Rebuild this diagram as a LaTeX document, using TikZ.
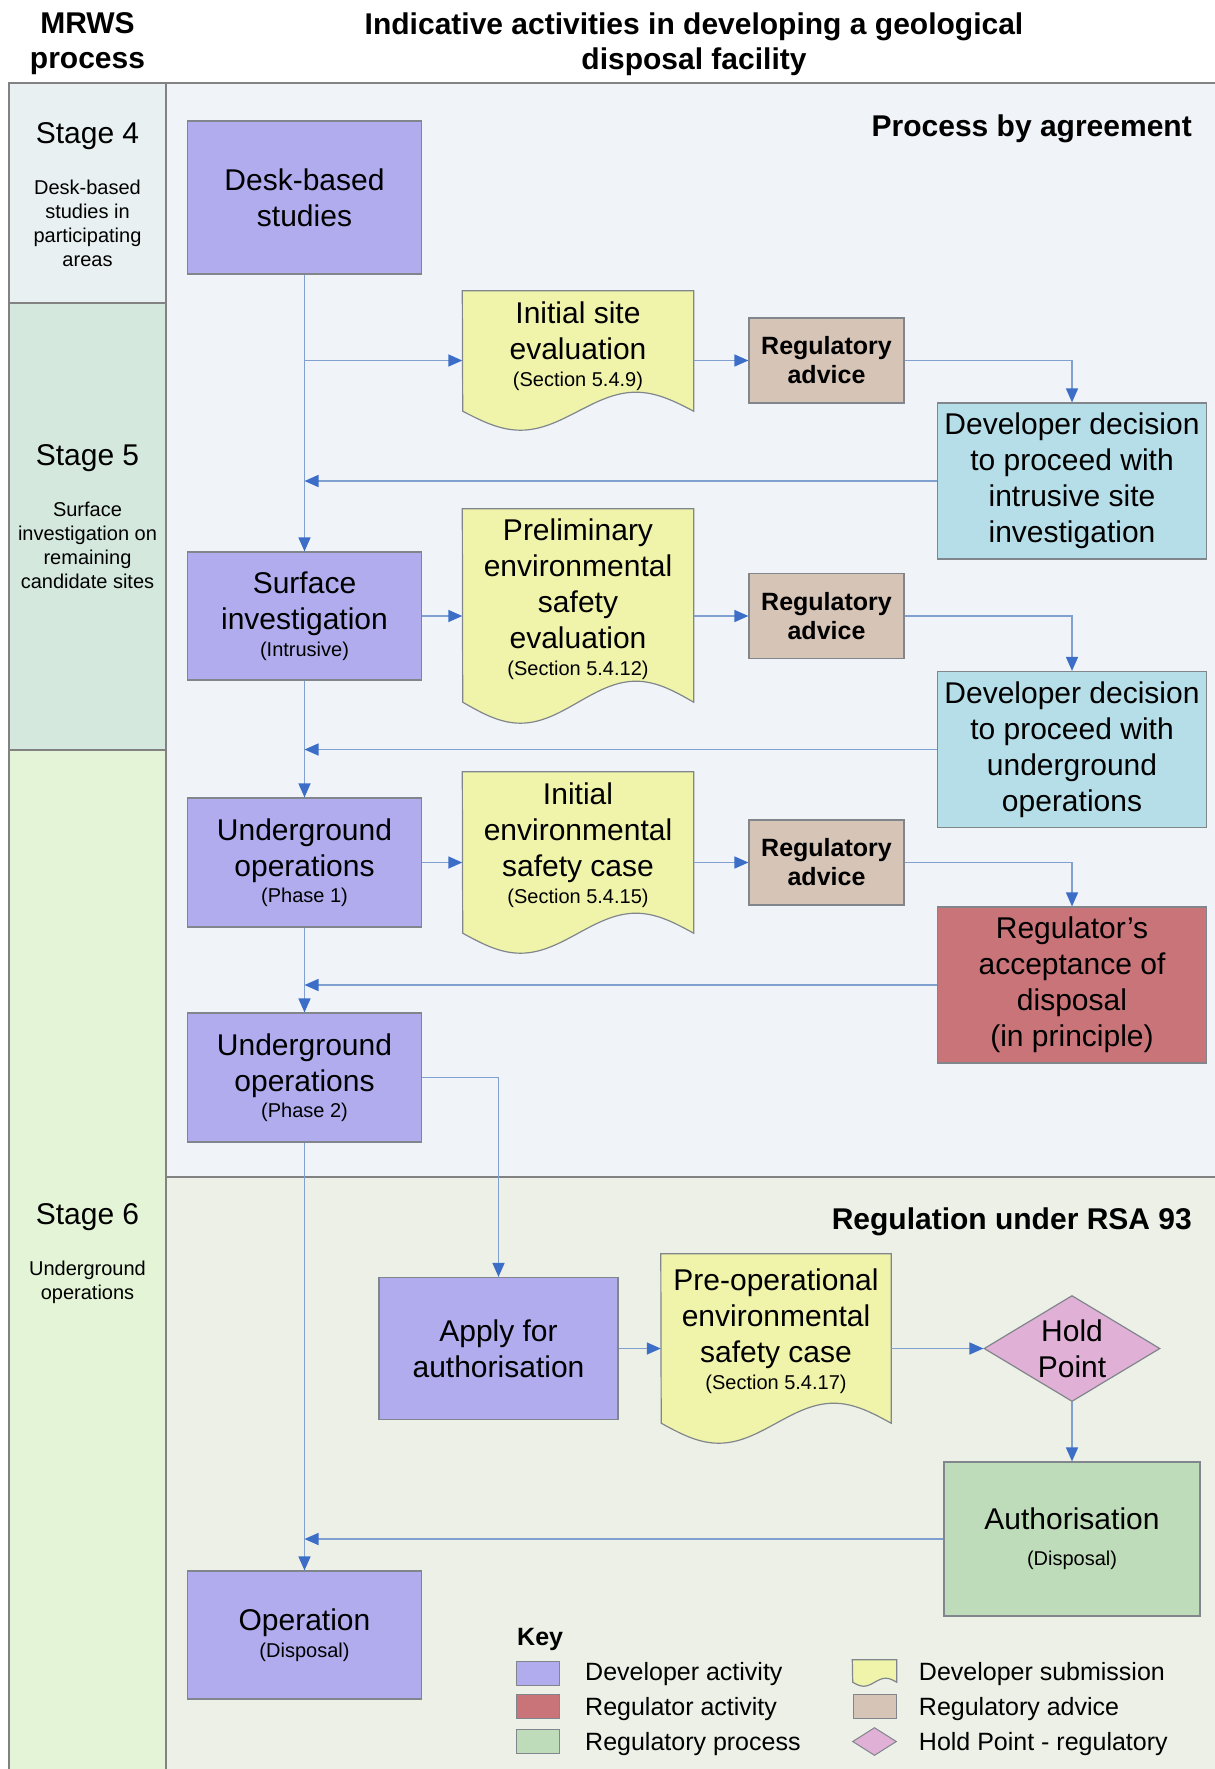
\documentclass[tikz,border=0pt]{standalone}
\usepackage{fontspec}
\setmainfont{Liberation Sans}
\usetikzlibrary{arrows.meta,shapes.geometric}

\definecolor{devfill}{RGB}{176,172,238}
\definecolor{subfill}{RGB}{240,244,170}
\definecolor{advfill}{RGB}{214,196,182}
\definecolor{decfill}{RGB}{182,222,232}
\definecolor{regfill}{RGB}{200,116,120}
\definecolor{procfill}{RGB}{190,220,186}
\definecolor{holdfill}{RGB}{224,176,214}
\definecolor{boxline}{RGB}{128,134,140}
\definecolor{linec}{RGB}{128,160,208}
\definecolor{arrowc}{RGB}{60,110,200}
\definecolor{stagefour}{RGB}{232,240,241}
\definecolor{stagefive}{RGB}{212,232,222}
\definecolor{stagesix}{RGB}{228,244,214}
\definecolor{agreebg}{RGB}{240,244,248}
\definecolor{rsabg}{RGB}{236,240,230}
\definecolor{framec}{RGB}{130,130,130}

\newcommand{\bigtxt}{\fontsize{30}{36}\selectfont}
\newcommand{\smtxt}[1]{{\fontsize{20}{24}\selectfont #1}}
% document outline: name, quarter width, wave height
\newcommand{\subshape}[3]{%
\filldraw[subm] (#1.north west) -- (#1.north east) -- ([yshift=#3]#1.south east)
  sin ++(-#2,-#3) cos ++(-#2,#3) sin ++(-#2,#3) cos ++(-#2,-#3) -- cycle;}

\begin{document}
\begin{tikzpicture}[x=1pt,y=-1pt,
box/.style={draw=boxline,line width=1.2pt,align=center,inner sep=2pt,font=\bigtxt},
devact/.style={box,fill=devfill,minimum width=234pt},
advice/.style={box,fill=advfill,minimum width=155pt,minimum height=85pt,font=\fontsize{25}{29}\selectfont\bfseries},
decision/.style={box,fill=decfill,minimum width=269pt,minimum height=156pt},
subnode/.style={minimum width=231pt,inner sep=0pt},
subm/.style={fill=subfill,draw=boxline,line width=1.2pt},
txt/.style={align=center,inner sep=0pt,font=\bigtxt},
conn/.style={draw=linec,line width=1.5pt,-{Triangle[length=14pt,width=12pt,color=arrowc]}},
band/.style={draw=framec,line width=1.5pt},
stagelbl/.style={font=\bigtxt,inner sep=0pt},
stagedesc/.style={align=center,inner sep=0pt,font=\fontsize{20}{24}\selectfont},
head/.style={align=center,inner sep=0pt,font=\fontsize{30}{35}\selectfont\bfseries},
keytxt/.style={anchor=base west,inner sep=0pt,font=\fontsize{25}{30}\selectfont},
swatch/.style={draw=boxline,line width=1pt,minimum width=43pt,minimum height=24pt,inner sep=0pt}]
\useasboundingbox (0,0) rectangle (1215,1769);

% bands
\path[band,fill=stagefour] (9,83) rectangle (166,303);
\path[band,fill=stagefive] (9,303) rectangle (166,750);
\path[band,fill=stagesix] (9,750) rectangle (166,1775);
\path[band,fill=agreebg] (166,83) rectangle (1217,1177);
\path[band,fill=rsabg] (166,1177) rectangle (1217,1775);

\node[head] (mrws) at (87.5,44) {MRWS\\process};
\node[head] (title) at (694,44) {Indicative activities in developing a geological\\disposal facility};

\node[stagelbl] (st4) at (87.5,136) {Stage 4};
\node[stagedesc] (st4d) at (87.5,223) {Desk-based\\studies in\\participating\\areas};
\node[stagelbl] (st5) at (87.5,458) {Stage 5};
\node[stagedesc] (st5d) at (87.5,545) {Surface\\investigation on\\remaining\\candidate sites};
\node[stagelbl] (st6) at (87.5,1217) {Stage 6};
\node[stagedesc] (st6d) at (87.5,1282) {Underground\\operations};

\node[head,anchor=east] (agree) at (1192,129) {Process by agreement};
\node[head,anchor=east] (rsa) at (1192,1222) {Regulation under RSA 93};

% developer column
\node[devact,minimum height=153pt] (desk) at (304.5,197.5) {Desk-based\\studies};
\node[devact,minimum height=128pt] (surf) at (304.5,616) {Surface\\investigation\\[-9.5pt]\smtxt{(Intrusive)}};
\node[devact,minimum height=129pt] (uo1) at (304.5,862.5) {Underground\\operations\\[-9.5pt]\smtxt{(Phase 1)}};
\node[devact,minimum height=129pt] (uo2) at (304.5,1077.5) {Underground\\operations\\[-9.5pt]\smtxt{(Phase 2)}};
\node[devact,minimum height=128pt] (oper) at (304.5,1635) {Operation\\[-9.5pt]\smtxt{(Disposal)}};
\node[devact,minimum width=239pt,minimum height=142pt] (apply) at (498.5,1348.5) {Apply for\\authorisation};

% submissions
\node[subnode,minimum height=139pt] (ise) at (578,360.5) {};
\subshape{ise}{57.75}{19}
\node[txt] (ise-t) at (578,346) {Initial site\\evaluation\\[-9pt]\smtxt{(Section 5.4.9)}};
\node[subnode,minimum height=214pt] (pes) at (578,616) {};
\subshape{pes}{57.75}{21}
\node[txt] (pes-t) at (578,599) {Preliminary\\environmental\\safety\\evaluation\\[-9.5pt]\smtxt{(Section 5.4.12)}};
\node[subnode,minimum height=181pt] (iesc) at (578,862.5) {};
\subshape{iesc}{57.75}{20}
\node[txt] (iesc-t) at (578,845) {Initial\\environmental\\safety case\\[-9.5pt]\smtxt{(Section 5.4.15)}};
\node[subnode,minimum width=230pt,minimum height=189pt] (preop) at (776,1348.5) {};
\subshape{preop}{57.5}{20}
\node[txt] (preop-t) at (776,1331) {Pre-operational\\environmental\\safety case\\[-9.5pt]\smtxt{(Section 5.4.17)}};

% advice and decisions
\node[advice] (adv1) at (826.5,360.5) {Regulatory\\advice};
\node[advice] (adv2) at (826.5,616) {Regulatory\\advice};
\node[advice] (adv3) at (826.5,862.5) {Regulatory\\advice};
\node[decision] (dec1) at (1072,481) {Developer decision\\to proceed with\\intrusive site\\investigation};
\node[decision] (dec2) at (1072,749.5) {Developer decision\\to proceed with\\underground\\operations};
\node[decision,fill=regfill] (accept) at (1072,985) {Regulator's\\acceptance of\\disposal\\(in principle)};
\node[draw=boxline,line width=1.2pt,fill=holdfill,diamond,shape aspect=1.66,minimum width=176pt,minimum height=106pt,inner sep=0pt,align=center,font=\bigtxt] (hold) at (1072,1348.5) {Hold\\Point};
\node[box,fill=procfill,minimum width=256pt,minimum height=154pt] (auth) at (1072,1539) {Authorisation\\\smtxt{(Disposal)}};

% connectors
\draw[conn] (desk.south) -- (surf.north);
\draw[conn] (surf.south) -- (uo1.north);
\draw[conn] (uo1.south) -- (uo2.north);
\draw[conn] (uo2.south) -- (oper.north);
\draw[conn] (desk.south |- ise.west) -- (ise.west);
\draw[conn] (ise.east) -- (adv1.west);
\draw[conn] (adv1.east) -| (dec1.north);
\draw[conn] (dec1.west) -- (desk.south |- dec1.west);
\draw[conn] (surf.east) -- (pes.west);
\draw[conn] (pes.east) -- (adv2.west);
\draw[conn] (adv2.east) -| (dec2.north);
\draw[conn] (dec2.west) -- (surf.south |- dec2.west);
\draw[conn] (uo1.east) -- (iesc.west);
\draw[conn] (iesc.east) -- (adv3.west);
\draw[conn] (adv3.east) -| (accept.north);
\draw[conn] (accept.west) -- (uo1.south |- accept.west);
\draw[conn] (uo2.east) -| (apply.north);
\draw[conn] (apply.east) -- (preop.west);
\draw[conn] (preop.east) -- (hold.west);
\draw[conn] (hold.south) -- (auth.north);
\draw[conn] (auth.west) -- (uo2.south |- auth.west);

% key
\node[anchor=base west,inner sep=0pt,font=\fontsize{25}{30}\selectfont\bfseries] (key) at (517,1645.7) {Key};
\node[swatch,fill=devfill] (k1) at (537.5,1673) {};
\node[swatch,fill=regfill] (k2) at (537.5,1706.5) {};
\node[swatch,fill=procfill] (k3) at (537.5,1741.5) {};
\node[keytxt] (k1t) at (585,1680.7) {Developer activity};
\node[keytxt] (k2t) at (585,1715) {Regulator activity};
\node[keytxt] (k3t) at (585,1750) {Regulatory process};
\node[minimum width=44pt,minimum height=26pt,inner sep=0pt] (k4) at (874.5,1673) {};
\subshape{k4}{11}{4}
\node[swatch,fill=advfill] (k5) at (874.5,1706.5) {};
\node[diamond,draw=boxline,line width=1pt,fill=holdfill,minimum width=44pt,minimum height=28pt,inner sep=0pt] (k6) at (874.5,1741.5) {};
\node[keytxt] (k4t) at (918.75,1680.7) {Developer submission};
\node[keytxt] (k5t) at (918.75,1715) {Regulatory advice};
\node[keytxt] (k6t) at (918.75,1750) {Hold Point - regulatory};
\end{tikzpicture}
\end{document}
